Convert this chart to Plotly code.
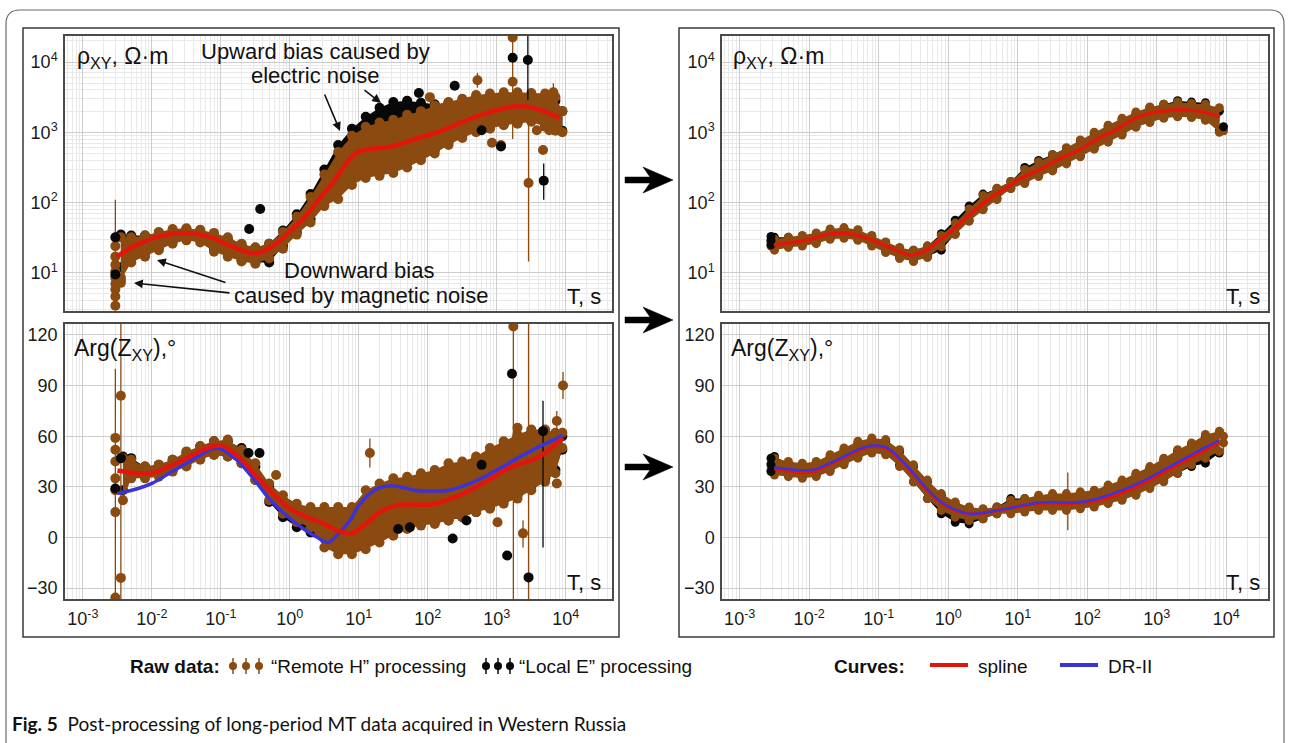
import plotly.graph_objects as go

W, H = 1290, 743
FONT = "Liberation Sans, Arial, sans-serif"
BROWN = "#8b4a10"
BLACK = "#080808"
RED = "#e2150c"
BLUE = "#3b33d8"

# ---------------- DATA (log10 of period T in s; values as read) ----------------
# Top-left: apparent resistivity, raw data (band envelopes)
tl_logT = [-2.45, -2.3, -2.1, -1.9, -1.7, -1.5, -1.3, -1.1, -0.9, -0.7, -0.5, -0.3, -0.1, 0.1, 0.3, 0.5, 0.7,
           0.9, 1.1, 1.3, 1.5, 1.7, 1.9, 2.1, 2.3, 2.5, 2.7, 2.9, 3.1, 3.3, 3.5, 3.7, 3.85, 3.95]
tl_remote_lo = [7.9, 14, 17, 21, 26, 29, 27, 20, 17, 14.5, 13.5, 16, 22, 35, 52, 89, 112, 178, 224, 240, 263,
                316, 400, 500, 660, 830, 1000, 1120, 1260, 1320, 1410, 1200, 1050, 1000]
tl_remote_hi = [32, 32, 34, 38, 42, 43, 41, 37, 32, 26, 23, 26, 38, 63, 120, 250, 525, 890, 1200, 1380, 1510,
                1780, 2000, 2400, 2700, 3000, 3400, 3550, 3700, 3700, 3630, 3550, 3160, 2000]
tl_local_lo = [12, 16, 19, 23, 28, 31, 29, 22, 18, 15, 14, 14, 24, 38, 58, 100, 150, 250, 300, 320, 340, 380,
               450, 560, 720, 900, 1100, 1150, 1300, 1350, 1450, 1250, 1100, 1050]
tl_local_hi = [35, 34, 34, 37, 40, 42, 40, 35, 30, 25, 23, 26, 40, 68, 132, 295, 660, 1120, 1660, 2240, 2700,
               2800, 2630, 2500, 2630, 2800, 3160, 3160, 3160, 3160, 3160, 3020, 2800, 2000]
tl_rem_pts_logT = [-2.53, -2.53, -2.53, -2.53, -2.53, -2.53, -2.53, -2.53, -2.53, -2.45, -2.45, 2.03, 2.72,
                   2.93, 3.06, 3.23, 3.23, 3.46, 3.58, 3.67, 3.76, 3.82]
tl_rem_pts_rho = [3.4, 4.6, 5.8, 7.0, 8.5, 10.5, 13, 17, 24, 7.2, 8.6, 3160, 5500, 710, 660, 5250, 22400, 190,
                  1070, 560, 1070, 3700]
tl_rem_pts_top = [None, None, None, None, None, None, None, None, 110, None, None, None, 7000, None, None, None,
                  40000, 2900, None, None, None, 5000]
tl_rem_pts_bot = [None, None, None, None, None, None, None, None, 3.4, None, None, None, 4300, None, None, None,
                  800, 14.5, None, None, None, 2700]
tl_loc_pts_logT = [-2.53, -2.53, -0.59, -0.43, 1.87, 2.39, 2.78, 3.06, 3.23, 3.45, 3.68]
tl_loc_pts_rho = [9.5, 32, 42, 81, 3630, 4600, 1070, 630, 11500, 10700, 205]
tl_loc_pts_top = [None, None, None, None, None, None, None, None, None, 40000, 360]
tl_loc_pts_bot = [None, None, None, None, None, None, None, None, None, 2900, 110]
tl_spline_logT = [-2.51, -2.3, -2.1, -1.9, -1.7, -1.55, -1.3, -1.1, -0.9, -0.7, -0.55, -0.4, -0.2, 0.0, 0.2,
                  0.4, 0.6, 0.8, 0.95, 1.1, 1.35, 1.6, 1.9, 2.2, 2.5, 2.8, 3.1, 3.3, 3.5, 3.7, 3.91]
tl_spline_rho = [17, 23, 28, 33, 36, 37, 35, 31, 25, 21, 19, 20, 26, 39, 60, 105, 180, 340, 500, 570, 600,
                 680, 850, 1050, 1400, 1800, 2200, 2350, 2250, 1950, 1600]

# Bottom-left: impedance phase, raw data
bl_logT = [-2.42, -2.3, -2.1, -1.9, -1.7, -1.5, -1.3, -1.1, -0.9, -0.7, -0.5, -0.3, -0.1, 0.1, 0.3, 0.5, 0.7,
           0.9, 1.1, 1.3, 1.5, 1.7, 1.9, 2.1, 2.3, 2.5, 2.7, 2.9, 3.1, 3.3, 3.5, 3.7, 3.85, 3.95]
bl_remote_lo = [22, 35, 35, 36, 39, 42, 46, 49, 48, 44, 34, 22, 14, 9, 6, -6, -10, -10, -7, -3, 1, 5, 7, 8,
                10, 12, 15, 17, 20, 23, 28, 33, 38, 53]
bl_remote_hi = [47, 46, 42, 43, 46, 51, 54, 57, 58, 52, 44, 32, 25, 20, 18, 18, 18, 18, 28, 32, 35, 36, 38, 40,
                44, 45, 48, 53, 57, 61, 64, 64, 62, 62]
bl_local_lo = [28, 36, 36, 37, 40, 43, 47, 49, 48, 44, 34, 21, 12, 6, 3, 0, -4, -2, 0, 2, 4, 6, 8, 9, 10, 12,
               15, 18, 22, 25, 30, 35, 40, 52]
bl_local_hi = [48, 47, 42, 43, 46, 50, 54, 57, 57, 53, 42, 30, 22, 17, 14, 12, 12, 15, 22, 28, 31, 32, 34, 37,
               40, 43, 46, 50, 55, 60, 62, 62, 60, 60]
bl_rem_pts_logT = [-2.53, -2.53, -2.53, -2.53, -2.53, -2.53, -2.53, -2.45, -2.45, -0.2, 1.16, 3.01, 3.24, 3.3,
                   3.38, 3.46, 3.87, 3.87, 3.96]
bl_rem_pts_val = [-35.6, 15, 28, 35, 45, 52, 59, 84, -24, 37, 50, 9, 125, 65, 2.4, 38, 69, 32, 90]
bl_rem_pts_top = [None, 100, None, None, None, None, None, 130, None, None, 58.7, None, 130, None, 10, 130, 75,
                  None, 98]
bl_rem_pts_bot = [None, -37, None, None, None, None, None, -37, None, None, 41.5, None, -37, None, -6, -37, 63,
                  None, 82]
bl_loc_pts_logT = [-2.53, -2.45, -0.6, -0.44, 1.57, 1.74, 2.36, 2.56, 2.78, 3.15, 3.22, 3.46, 3.67]
bl_loc_pts_val = [29, 47, 50, 50, 5, 6, -0.6, 10, 43, -10.7, 97, -23.7, 63]
bl_loc_pts_top = [None, None, None, None, None, None, None, None, None, None, None, None, 81]
bl_loc_pts_bot = [None, None, None, None, None, None, None, None, None, None, None, None, -6]
bl_spline_logT = [-2.5, -2.2, -2.0, -1.75, -1.5, -1.25, -1.0, -0.75, -0.5, -0.25, 0.0, 0.25, 0.5, 0.7, 0.9,
                  1.1, 1.3, 1.55, 1.8, 2.05, 2.4, 2.8, 3.2, 3.6, 3.96]
bl_spline_val = [39.7, 38, 38, 42, 47, 52, 54.5, 48, 37, 26, 17, 12, 8, 4, 2.5, 8, 15, 19, 19.5, 19.5, 24, 32,
                 41.5, 47.5, 59]
bl_dr2_logT = [-2.5, -2.2, -2.0, -1.75, -1.5, -1.25, -1.05, -0.8, -0.55, -0.3, -0.05, 0.2, 0.4, 0.55, 0.7,
               0.87, 1.0, 1.16, 1.3, 1.45, 1.6, 1.8, 2.05, 2.3, 2.55, 2.8, 3.05, 3.3, 3.6, 3.96]
bl_dr2_val = [26, 29, 32, 38, 44, 50, 53, 47, 36, 23, 13, 5, 0, -3, 2, 10, 19, 26, 29.5, 30.5, 30, 28, 27.5,
              28, 31, 35.5, 41, 47, 53.5, 60.5]

# Top-right: apparent resistivity after post-processing
tr_logT = [-2.5, -2.3, -2.1, -1.9, -1.7, -1.5, -1.3, -1.1, -0.9, -0.7, -0.5, -0.3, -0.1, 0.1, 0.3, 0.5, 0.7,
           0.9, 1.1, 1.3, 1.5, 1.7, 1.9, 2.1, 2.3, 2.5, 2.7, 2.9, 3.1, 3.3, 3.5, 3.7, 3.9]
tr_remote_lo = [21, 23, 24, 26, 30, 31, 29, 24, 19.5, 16, 14.5, 16.5, 23.5, 35, 54, 79, 110, 158, 186, 234,
                282, 355, 447, 575, 724, 912, 1175, 1380, 1585, 1660, 1620, 1480, 1000]
tr_remote_hi = [30, 32, 34, 37, 42, 44, 41, 34, 27.5, 23, 21, 24, 34, 51, 81, 126, 160, 200, 295, 380, 479,
                603, 776, 1000, 1260, 1585, 1950, 2290, 2510, 2690, 2570, 2510, 2240]
tr_local_lo = [23, 24, 25, 27, 31, 33, 30, 25, 20, 16.5, 15, 17, 21, 36, 56, 82, 115, 160, 195, 245, 295, 370,
               465, 600, 760, 950, 1220, 1420, 1620, 1700, 1660, 1520, 1050]
tr_local_hi = [32, 32, 33, 35, 40, 42, 40, 33, 27, 22, 21, 24, 36, 56, 89, 132, 158, 200, 316, 398, 479, 589,
               741, 955, 1200, 1510, 1860, 2240, 2510, 2820, 2690, 2630, 2000]
tr_rem_pts_logT = [-2.55, -2.55, 3.96]
tr_rem_pts_rho = [24, 27, 1050]
tr_loc_pts_logT = [-2.55, -2.55, -2.55, 3.96]
tr_loc_pts_rho = [25, 29, 33, 1200]
tr_spline_logT = [-2.51, -2.25, -1.99, -1.75, -1.53, -1.25, -1.01, -0.75, -0.55, -0.35, -0.19, 0.0, 0.33, 0.6,
                  0.79, 1.0, 1.2, 1.37, 1.6, 1.88, 2.1, 2.4, 2.7, 3.0, 3.32, 3.6, 3.91]
tr_spline_rho = [25, 27, 30, 35, 37, 33, 27, 21, 18, 20, 26, 36, 70, 115, 150, 210, 260, 316, 420, 560, 760,
                 1070, 1600, 1950, 2100, 2000, 1660]

# Bottom-right: impedance phase after post-processing
br_logT = [-2.5, -2.3, -2.1, -1.9, -1.7, -1.5, -1.3, -1.1, -0.9, -0.7, -0.5, -0.3, -0.1, 0.1, 0.3, 0.5, 0.7,
           0.9, 1.1, 1.3, 1.5, 1.7, 1.9, 2.1, 2.3, 2.5, 2.7, 2.9, 3.1, 3.3, 3.5, 3.7, 3.9]
br_remote_lo = [37, 36, 35, 36, 39, 43, 47, 50, 49, 42, 33, 23, 16, 12, 10, 11, 14, 14, 15, 16, 16, 16, 17, 18,
                20, 22, 25, 29, 33, 38, 43, 47, 51]
br_remote_hi = [47, 45, 44, 45, 49, 53, 57, 59, 58, 52, 43, 34, 26, 21, 18, 17, 18, 22, 23, 25, 26, 26, 27, 28,
                31, 34, 38, 42, 47, 52, 56, 61, 63]
br_local_lo = [38, 37, 36, 37, 40, 44, 48, 51, 50, 43, 33, 23, 14, 9, 8, 11, 14, 16, 16, 17, 17, 17, 18, 19, 21,
               23, 26, 30, 34, 38, 42, 44, 50]
br_local_hi = [48, 44, 43, 44, 48, 52, 56, 58, 57, 51, 42, 33, 25, 20, 17, 16, 18, 23, 23, 24, 25, 25, 26, 27,
               30, 33, 37, 41, 46, 51, 55, 60, 62]
br_rem_pts_logT = [-2.55, -2.55, 1.72, 3.96, 3.96]
br_rem_pts_val = [40, 44, 20, 56, 60]
br_rem_pts_top = [None, None, 38.5, None, 64]
br_rem_pts_bot = [None, None, 4.2, None, 50]
br_loc_pts_logT = [-2.55, -2.55, -2.55]
br_loc_pts_val = [39, 43, 47]
br_curve_logT = [-2.5, -2.3, -2.1, -1.9, -1.7, -1.5, -1.3, -1.1, -0.9, -0.7, -0.5, -0.3, -0.1, 0.1, 0.3, 0.5,
                 0.7, 0.9, 1.1, 1.3, 1.5, 1.7, 1.9, 2.1, 2.3, 2.5, 2.7, 2.9, 3.1, 3.3, 3.5, 3.7, 3.9]
br_spline_val = [40.5, 39.5, 38.5, 39.5, 43.5, 47.5, 51.5, 54, 53, 46.5, 37.5, 28, 20.5, 16, 14, 14.5, 16, 17.5,
                 19, 20.3, 20.5, 20, 20.5, 21.5, 23.5, 26.5, 30, 34, 38.5, 43, 47.5, 52, 56.5]
br_dr2_val = [41.5, 40.5, 39.7, 40.5, 44, 48, 52, 54.5, 53.5, 47, 38, 28.5, 21, 16.5, 14, 14.5, 16, 17.5, 19.2,
              20.5, 21, 20.5, 21, 22.5, 25, 28, 31.5, 35.5, 40, 44.5, 49, 53.5, 57.5]

x_ticks = [1e-3, 1e-2, 1e-1, 1e0, 1e1, 1e2, 1e3, 1e4]
x_ticktext = ["10<sup>-3</sup>", "10<sup>-2</sup>", "10<sup>-1</sup>", "10<sup>0</sup>", "10<sup>1</sup>",
              "10<sup>2</sup>", "10<sup>3</sup>", "10<sup>4</sup>"]
rho_ticks = [1e1, 1e2, 1e3, 1e4]
rho_ticktext = ["10<sup>1</sup>", "10<sup>2</sup>", "10<sup>3</sup>", "10<sup>4</sup>"]
phase_ticks = [-30, 0, 30, 60, 90, 120]


# ---------------- helpers ----------------
def X(p):
    return p / W


def Y(p):
    return 1 - p / H


def per(logs):
    return [10 ** v for v in logs]


fig = go.Figure()


def add_band(ax, logT, lo, hi, color, size=10):
    t = per(logT)
    fig.add_trace(go.Scatter(x=t + t[::-1], y=list(hi) + list(lo)[::-1], mode="lines", fill="toself",
                             fillcolor=color, line=dict(width=0, color=color),
                             xaxis="x" + ax, yaxis="y" + ax, hoverinfo="skip"))
    fig.add_trace(go.Scatter(x=t + t, y=list(lo) + list(hi), mode="markers",
                             marker=dict(size=size, color=color, line=dict(width=0)),
                             xaxis="x" + ax, yaxis="y" + ax, hoverinfo="skip"))


def add_points(ax, logT, vals, color, tops=None, bots=None, size=10):
    t = per(logT)
    err = None
    if tops is not None:
        plus = [0 if tp is None else tp - v for tp, v in zip(tops, vals)]
        minus = [0 if bt is None else v - bt for bt, v in zip(bots, vals)]
        err = dict(type="data", symmetric=False, array=plus, arrayminus=minus, color=color,
                   thickness=1.3, width=0)
    fig.add_trace(go.Scatter(x=t, y=vals, mode="markers", marker=dict(size=size, color=color, line=dict(width=0)),
                             error_y=err, xaxis="x" + ax, yaxis="y" + ax, hoverinfo="skip"))


def add_curve(ax, logT, vals, color, width):
    fig.add_trace(go.Scatter(x=per(logT), y=vals, mode="lines", line=dict(color=color, width=width, shape="spline",
                                                                        smoothing=1.0),
                             xaxis="x" + ax, yaxis="y" + ax, hoverinfo="skip"))


# top-left (axis "")
add_band("", tl_logT, tl_local_lo, tl_local_hi, BLACK)
add_band("", tl_logT, tl_remote_lo, tl_remote_hi, BROWN)
add_points("", tl_rem_pts_logT, tl_rem_pts_rho, BROWN, tl_rem_pts_top, tl_rem_pts_bot)
add_points("", tl_loc_pts_logT, tl_loc_pts_rho, BLACK, tl_loc_pts_top, tl_loc_pts_bot)
add_curve("", tl_spline_logT, tl_spline_rho, RED, 4.5)

# bottom-left (axis 2)
add_band("2", bl_logT, bl_local_lo, bl_local_hi, BLACK)
add_band("2", bl_logT, bl_remote_lo, bl_remote_hi, BROWN)
add_points("2", bl_rem_pts_logT, bl_rem_pts_val, BROWN, bl_rem_pts_top, bl_rem_pts_bot)
add_points("2", bl_loc_pts_logT, bl_loc_pts_val, BLACK, bl_loc_pts_top, bl_loc_pts_bot)
add_curve("2", bl_dr2_logT, bl_dr2_val, BLUE, 3.5)
add_curve("2", bl_spline_logT, bl_spline_val, RED, 4.5)

# top-right (axis 3)
add_band("3", tr_logT, tr_local_lo, tr_local_hi, BLACK, 9)
add_band("3", tr_logT, tr_remote_lo, tr_remote_hi, BROWN, 9)
add_points("3", tr_rem_pts_logT, tr_rem_pts_rho, BROWN, size=9)
add_points("3", tr_loc_pts_logT, tr_loc_pts_rho, BLACK, size=9)
add_curve("3", tr_spline_logT, tr_spline_rho, RED, 3.5)

# bottom-right (axis 4)
add_band("4", br_logT, br_local_lo, br_local_hi, BLACK, 9)
add_band("4", br_logT, br_remote_lo, br_remote_hi, BROWN, 9)
add_points("4", br_rem_pts_logT, br_rem_pts_val, BROWN, br_rem_pts_top, br_rem_pts_bot, size=9)
add_points("4", br_loc_pts_logT, br_loc_pts_val, BLACK, size=9)
add_curve("4", br_curve_logT, br_spline_val, RED, 3.5)
add_curve("4", br_curve_logT, br_dr2_val, BLUE, 2.5)

# legend symbols (on a pixel-scaled strip axis)
LEG_Y = 666
for xs, col in (([233, 246, 259], BROWN), ([486, 498, 510], BLACK)):
    fig.add_trace(go.Scatter(x=xs, y=[LEG_Y] * 3, mode="markers", marker=dict(size=8, color=col),
                             error_y=dict(type="constant", value=8, color=col, thickness=1.5, width=0),
                             xaxis="x5", yaxis="y5", hoverinfo="skip"))
for x0, x1, col in ((930, 968, RED), (1060, 1098, BLUE)):
    fig.add_trace(go.Scatter(x=[x0, x1], y=[LEG_Y - 1, LEG_Y - 1], mode="lines", line=dict(color=col, width=4),
                             xaxis="x5", yaxis="y5", hoverinfo="skip"))

# ---------------- axes ----------------
GRID = "#cdcdcd"
MINOR = "#e9e9e9"
TICKFONT = dict(family=FONT, size=18, color="#1a1a1a")


def xaxis(dom, rng, labels, anchor):
    return dict(domain=[X(dom[0]), X(dom[1])], type="log", range=rng, anchor=anchor,
                tickmode="array", tickvals=x_ticks, ticktext=x_ticktext, showticklabels=labels,
                showgrid=True, gridcolor=GRID, gridwidth=1,
                minor=dict(showgrid=True, gridcolor=MINOR, gridwidth=1, dtick="D1"),
                ticks="", showline=True, mirror=True, linecolor="#4a4a4a", linewidth=1.5, zeroline=False,
                tickfont=TICKFONT, ticklabelstandoff=3, fixedrange=True)


def rho_axis(dom, anchor):
    return dict(domain=[Y(dom[1]), Y(dom[0])], type="log", range=[0.457, 4.37], anchor=anchor,
                tickmode="array", tickvals=rho_ticks, ticktext=rho_ticktext,
                showgrid=True, gridcolor=GRID, gridwidth=1,
                minor=dict(showgrid=True, gridcolor=MINOR, gridwidth=1, dtick="D1"),
                ticks="", showline=True, mirror=True, linecolor="#4a4a4a", linewidth=1.5, zeroline=False,
                tickfont=TICKFONT, ticklabelstandoff=2, fixedrange=True)


def phase_axis(dom, anchor):
    return dict(domain=[Y(dom[1]), Y(dom[0])], range=[-36.5, 126.5], anchor=anchor,
                tickmode="array", tickvals=phase_ticks,
                showgrid=True, gridcolor=GRID, gridwidth=1,
                ticks="", showline=True, mirror=True, linecolor="#4a4a4a", linewidth=1.5, zeroline=False,
                tickfont=TICKFONT, ticklabelstandoff=2, fixedrange=True)


LX = (65, 612)
RX = (722, 1268)
TOPY = (36, 311)
BOTY = (324, 599)

fig.update_layout(
    width=W, height=H, margin=dict(l=0, r=0, t=0, b=0),
    paper_bgcolor="white", plot_bgcolor="white", showlegend=False,
    font=dict(family=FONT, color="#111"),
    xaxis=xaxis(LX, [-3.26, 4.67], False, "y"),
    yaxis=rho_axis(TOPY, "x"),
    xaxis2=xaxis(LX, [-3.26, 4.67], True, "y2"),
    yaxis2=phase_axis(BOTY, "x2"),
    xaxis3=xaxis(RX, [-3.255, 4.6], False, "y3"),
    yaxis3=rho_axis(TOPY, "x3"),
    xaxis4=xaxis(RX, [-3.255, 4.6], True, "y4"),
    yaxis4=phase_axis(BOTY, "x4"),
    xaxis5=dict(domain=[0, 1], range=[0, W], visible=False, fixedrange=True, anchor="y5"),
    yaxis5=dict(domain=[Y(692), Y(640)], range=[692, 640], visible=False, fixedrange=True, anchor="x5"),
)

# ---------------- shapes ----------------
shapes = []
# outer rounded border
shapes.append(dict(type="path", xref="paper", yref="paper",
                   path=(f"M {X(6)},{Y(760)} L {X(6)},{Y(24)} Q {X(6)},{Y(10)} {X(20)},{Y(10)} "
                         f"L {X(1270)},{Y(10)} Q {X(1284)},{Y(10)} {X(1284)},{Y(24)} L {X(1284)},{Y(760)}"),
                   line=dict(color="#6a6a6a", width=1.2)))
# column frames
for x0, x1 in ((23, 619), (679, 1274)):
    shapes.append(dict(type="rect", xref="paper", yref="paper", x0=X(x0), x1=X(x1), y0=Y(637), y1=Y(28),
                       line=dict(color="#3a3a3a", width=1.5)))
# block arrows between columns
for yc in (180, 320, 467):
    pts = [(625, yc - 3), (650, yc - 3), (643, yc - 13), (673, yc), (643, yc + 13), (650, yc + 3), (625, yc + 3)]
    path = "M " + " L ".join(f"{X(px)},{Y(py)}" for px, py in pts) + " Z"
    shapes.append(dict(type="path", xref="paper", yref="paper", path=path, fillcolor="black",
                       line=dict(color="black", width=0.5)))
fig.update_layout(shapes=shapes)

# ---------------- annotations ----------------
ann = []


def text(px, py, s, size, anchor="left", family=FONT):
    ann.append(dict(x=X(px), y=Y(py), xref="paper", yref="paper", text=s, showarrow=False,
                    xanchor=anchor, yanchor="middle", font=dict(family=family, size=size, color="#111")))


def arrow(tip, tail):
    ann.append(dict(x=X(tip[0]), y=Y(tip[1]), xref="paper", yref="paper", text="",
                    showarrow=True, ax=tail[0] - tip[0], ay=tail[1] - tip[1], axref="pixel", ayref="pixel",
                    arrowhead=2, arrowsize=1.1, arrowwidth=1.6, arrowcolor="#111", standoff=0))


for x0 in (75, 731):
    text(x0, 58, "ρ<sub>XY</sub>, Ω·m", 23)
for x0 in (72, 729):
    text(x0, 349, "Arg(Z<sub>XY</sub>),°", 23)
for xr in (603, 1262):
    text(xr, 297, "T, s", 22, "right")
    text(xr, 582, "T, s", 22, "right")

text(315, 52, "Upward bias caused by", 22, "center")
text(315, 75, "electric noise", 22, "center")
text(359, 270, "Downward bias", 22, "center")
text(361, 295, "caused by magnetic noise", 22, "center")
arrow((340, 131), (324, 93))
arrow((381, 103), (363, 89))
arrow((157, 260), (227, 283))
arrow((134, 283), (231, 293))

# legend texts
text(128, 666, "<b>Raw data:</b>", 19)
text(269, 666, "“Remote H” processing", 19)
text(517, 666, "“Local E” processing", 19)
text(832, 666, "<b>Curves:</b>", 19)
text(976, 666, "spline", 19)
text(1106, 666, "DR-II", 19)

# caption
text(10, 723, "<b>Fig. 5</b>  Post-processing of long-period MT data acquired in Western Russia", 19,
     family="Lato, Noto Sans, sans-serif")

fig.update_layout(annotations=ann)
fig.write_html("out.html")
